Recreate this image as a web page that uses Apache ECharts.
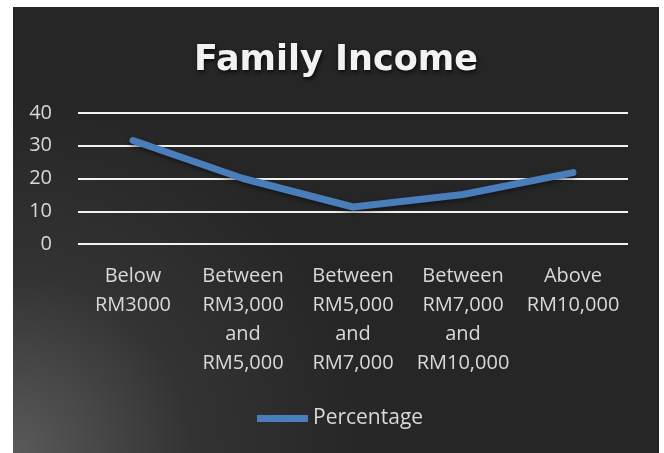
<!DOCTYPE html>
<html>
<head>
<meta charset="utf-8">
<script src="https://cdn.jsdelivr.net/npm/echarts@6/dist/echarts.min.js"></script>
<style>
html,body{margin:0;padding:0;background:#fff;width:664px;height:453px;overflow:hidden;}
#c{position:absolute;left:13px;top:7px;width:646px;height:446px;}
</style>
</head>
<body>
<div id="c"></div>
<script>
const categories = ['Below\nRM3000', 'Between\nRM3,000\nand\nRM5,000', 'Between\nRM5,000\nand\nRM7,000', 'Between\nRM7,000\nand\nRM10,000', 'Above\nRM10,000'];
const percentage = [31.6, 20, 11.3, 15.1, 21.8];
const yTicks = [0, 10, 20, 30, 40];

const chart = echarts.init(document.getElementById('c'));
chart.setOption({
  backgroundColor: {
    type: 'radial', x: 0, y: 1, r: 0.8,
    colorStops: [{offset: 0, color: '#5a5a5a'}, {offset: 0.5, color: '#333333'}, {offset: 1, color: '#262626'}]
  },
  title: {
    text: 'Family Income', left: 'center', top: 31,
    textStyle: {color: '#f2f2f2', fontSize: 35, fontWeight: 'bold', fontFamily: 'DejaVu Sans',
      textShadowColor: 'rgba(0,0,0,0.8)', textShadowBlur: 4, textShadowOffsetX: 1, textShadowOffsetY: 2}
  },
  legend: {
    data: ['Percentage'], left: 239, top: 396,
    itemWidth: 51, itemHeight: 7, icon: 'rect', itemGap: 7,
    textStyle: {color: '#d9d9d9', fontSize: 21, fontFamily: 'Open Sans'}
  },
  grid: {left: 65, right: 31, top: 106, bottom: 209},
  xAxis: {
    type: 'category', data: categories, boundaryGap: true,
    axisLine: {show: false}, axisTick: {show: false},
    axisLabel: {color: '#d9d9d9', fontSize: 20, fontFamily: 'Open Sans', lineHeight: 29, margin: 18, interval: 0}
  },
  yAxis: {
    type: 'value', min: yTicks[0], max: yTicks[yTicks.length - 1], interval: 10,
    axisLine: {show: false}, axisTick: {show: false},
    axisLabel: {color: '#d9d9d9', fontSize: 20, fontFamily: 'Open Sans', margin: 26},
    splitLine: {lineStyle: {color: '#f2f2f2', width: 2}}
  },
  series: [{
    name: 'Percentage', type: 'line', data: percentage,
    symbol: 'none',
    lineStyle: {color: '#4a7ebb', width: 7, shadowColor: 'rgba(0,0,0,0.5)', shadowBlur: 4, shadowOffsetY: 2, cap: 'round'},
    itemStyle: {color: '#4a7ebb'}
  }]
});
</script>
</body>
</html>
